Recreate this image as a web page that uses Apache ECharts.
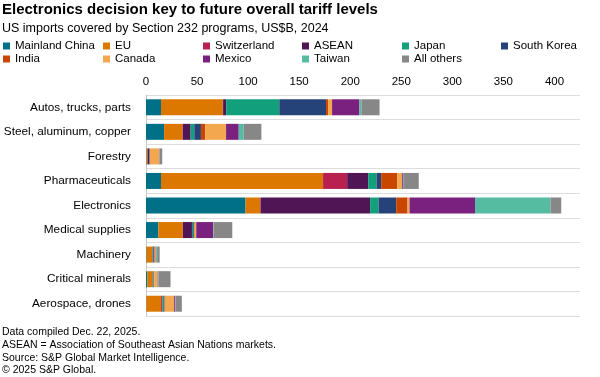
<!DOCTYPE html>
<html><head><meta charset="utf-8">
<script src="https://cdn.jsdelivr.net/npm/echarts@6/dist/echarts.min.js"></script>
<style>html,body{margin:0;padding:0;background:#fff}#c{width:600px;height:377px}</style>
</head><body><div id="c"></div>
<script>
const categories = ["Autos, trucks, parts","Steel, aluminum, copper","Forestry","Pharmaceuticals","Electronics","Medical supplies","Machinery","Critical minerals","Aerospace, drones"];
const seriesNames = ["Mainland China","EU","Switzerland","ASEAN","Japan","South Korea","India","Canada","Mexico","Taiwan","All others"];
const mainlandChina = [14.7, 17.7, 0.4, 14.7, 97.5, 12.1, 0.5, 1.3, 0.3];
const eu            = [60.5, 18.0, 1.2, 158.7, 14.4, 23.9, 5.6, 5.0, 14.5];
const switzerland   = [0.3, 0.5, 0, 23.6, 0.3, 0.2, 0.2, 0.1, 1.2];
const asean         = [3.0, 7.5, 1.8, 20.6, 107.3, 8.8, 0.3, 0.3, 0.3];
const japan         = [52.0, 3.6, 0.3, 8.1, 8.2, 1.3, 0.5, 0.7, 1.3];
const southKorea    = [45.8, 6.5, 0.1, 4.6, 17.3, 0.7, 1.0, 0.3, 0.5];
const india         = [2.0, 4.3, 0.1, 15.7, 11.1, 0.6, 0.5, 0.3, 0.3];
const canada        = [3.9, 20.3, 9.0, 4.9, 2.0, 1.6, 1.0, 3.3, 9.2];
const mexico        = [26.8, 12.4, 0.3, 1.3, 64.1, 16.4, 0.3, 0.3, 1.0];
const taiwan        = [2.0, 4.9, 0.2, 0.5, 73.9, 0.5, 1.0, 0.5, 0.3];
const allOthers     = [17.7, 17.3, 2.5, 14.4, 10.5, 18.4, 2.5, 11.9, 6.2];
const xTicks = [0, 50, 100, 150, 200, 250, 300, 350, 400];
const footnotes = ["Data compiled Dec. 22, 2025.","ASEAN = Association of Southeast Asian Nations markets.","Source: S&P Global Market Intelligence.","\u00a9 2025 S&P Global."];

const values = [mainlandChina, eu, switzerland, asean, japan, southKorea, india, canada, mexico, taiwan, allOthers];
const colors = ["#007088","#dc7800","#b8204f","#501555","#119f7c","#264379","#c94600","#f3a74f","#7a217f","#55bca2","#878787"];
const FONT = "Liberation Sans, Arial, sans-serif";

const legendX = [3, 103, 203, 302, 402, 501];
const legendY = [40, 53];
const legends = seriesNames.map((n, i) => ({
  data: [n], left: legendX[i % 6], top: legendY[Math.floor(i / 6)],
  icon: 'rect', itemWidth: 7, itemHeight: 7, padding: 0,
  textStyle: { fontFamily: FONT, fontSize: 11.5, color: '#000', lineHeight: 12 },
  selectedMode: false
}));

const chart = echarts.init(document.getElementById('c'), null, { renderer: 'canvas' });
chart.setOption({
  animation: false,
  title: [
    { text: "Electronics decision key to future overall tariff levels", left: 2, top: 2, padding: 0,
      textStyle: { fontFamily: FONT, fontSize: 15, fontWeight: 'bold', color: '#000' } },
    { text: "US imports covered by Section 232 programs, US$B, 2024", left: 2, top: 22, padding: 0,
      textStyle: { fontFamily: FONT, fontSize: 12.5, fontWeight: 'normal', color: '#000' } },
    { text: footnotes.join("\n"), left: 2, top: 326, padding: 0,
      textStyle: { fontFamily: FONT, fontSize: 10.5, fontWeight: 'normal', color: '#000', lineHeight: 12.7 } }
  ],
  legend: legends,
  grid: { left: 146, right: 20, top: 95, height: 221, containLabel: false },
  xAxis: {
    type: 'value', position: 'top', min: 0, max: 425, interval: 25,
    axisLine: { show: false }, axisTick: { show: false }, splitLine: { show: false },
    axisLabel: { margin: 7, fontFamily: FONT, fontSize: 11.5, color: '#000',
      formatter: v => xTicks.includes(v) ? String(v) : '' }
  },
  yAxis: {
    type: 'category', data: categories, inverse: true,
    axisLine: { show: true, lineStyle: { color: '#c8c8c8', width: 1 } },
    axisTick: { show: false },
    splitLine: { show: true, lineStyle: { color: '#dcdcdc', width: 1 } },
    axisLabel: { margin: 15, fontFamily: FONT, fontSize: 11.8, color: '#000' }
  },
  series: seriesNames.map((n, i) => ({
    name: n, type: 'bar', stack: 'total', data: values[i], barWidth: 16,
    itemStyle: { color: colors[i] }
  }))
});
</script></body></html>
